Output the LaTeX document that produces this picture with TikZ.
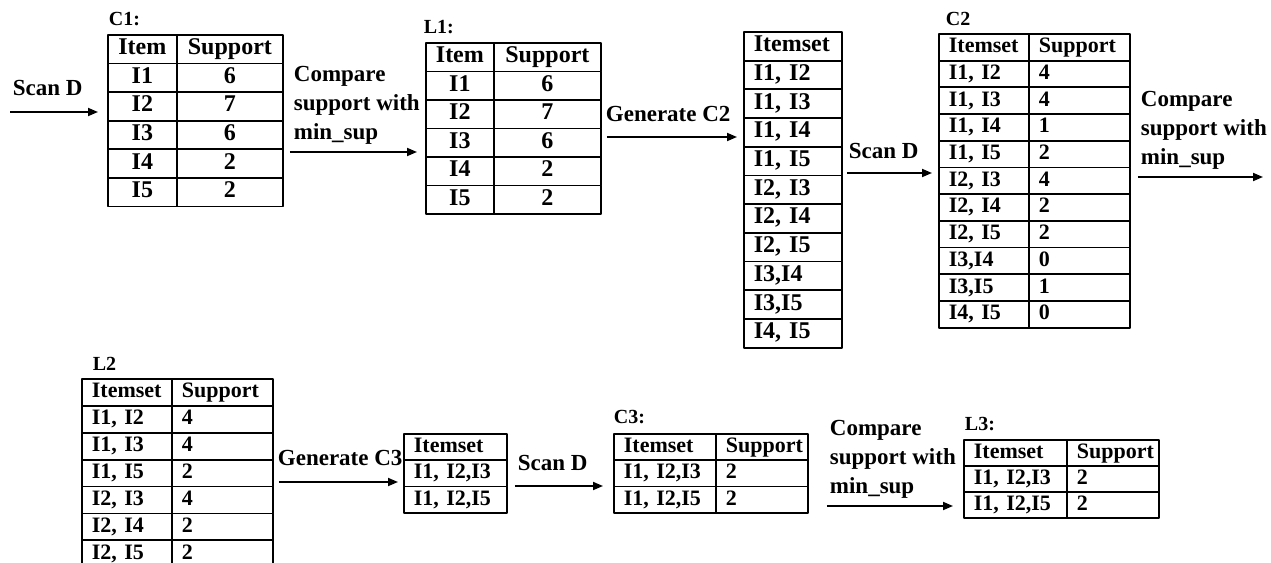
\documentclass[tikz,border=0pt]{standalone}
\usepackage{fontspec}
\setmainfont{Liberation Serif}
\usetikzlibrary{matrix,arrows.meta}
\begin{document}
\begin{tikzpicture}[x=1pt, y=-1pt, line width=1.8pt, line join=round, >={Triangle[length=10pt,width=8pt]},
	tbl/.style={matrix of nodes, anchor=north west, inner sep=0pt, outer sep=0pt, row sep=-\pgflinewidth, column sep=-\pgflinewidth, nodes={draw, inner xsep=10pt, inner ysep=0pt}},
	bigcell/.style={nodes={font=\fontsize{24}{28}\selectfont\bfseries, text height=17pt, text depth=6pt, minimum height=#1}},
	smallcell/.style={nodes={font=\fontsize{22}{26}\selectfont\bfseries, text height=16pt, text depth=5pt, minimum height=#1}},
	colw/.style 2 args={column #1/.style={nodes={text width=#2}}},
	lbl/.style={anchor=south west, inner sep=0pt, align=left, font=\fontsize{23}{28.8}\selectfont\bfseries},
	ttl/.style={anchor=base west, inner sep=0pt, font=\fontsize{20}{24}\selectfont\bfseries}]
	\useasboundingbox (0,0) rectangle (1271,562);

	\matrix (c1) [tbl, bigcell=28.6pt, nodes={align=center}, colw={1}{49pt}, colw={2}{86pt}] at (107,34) {
		Item & Support\\
		I1 & 6\\
		I2 & 7\\
		I3 & 6\\
		I4 & 2\\
		I5 & 2\\
	};
	\matrix (l1) [tbl, bigcell=28.5pt, nodes={align=center}, colw={1}{48pt}, colw={2}{87pt}] at (425,42) {
		Item & Support\\
		I1 & 6\\
		I2 & 7\\
		I3 & 6\\
		I4 & 2\\
		I5 & 2\\
	};
	\matrix (c2i) [tbl, bigcell=28.7pt, nodes={align=left}, colw={1}{78pt}] at (743,31) {
		Itemset\\
		I1, I2\\
		I1, I3\\
		I1, I4\\
		I1, I5\\
		I2, I3\\
		I2, I4\\
		I2, I5\\
		I3,I4\\
		I3,I5\\
		I4, I5\\
	};
	\matrix (c2) [tbl, smallcell=26.7pt, nodes={align=left}, colw={1}{70pt}, colw={2}{81pt}] at (938,33) {
		Itemset & Support\\
		I1, I2 & 4\\
		I1, I3 & 4\\
		I1, I4 & 1\\
		I1, I5 & 2\\
		I2, I3 & 4\\
		I2, I4 & 2\\
		I2, I5 & 2\\
		I3,I4 & 0\\
		I3,I5 & 1\\
		I4, I5 & 0\\
	};
	\matrix (l2) [tbl, smallcell=26.9pt, nodes={align=left}, colw={1}{70pt}, colw={2}{81pt}] at (81,378) {
		Itemset & Support\\
		I1, I2 & 4\\
		I1, I3 & 4\\
		I1, I5 & 2\\
		I2, I3 & 4\\
		I2, I4 & 2\\
		I2, I5 & 2\\
	};
	\matrix (c3i) [tbl, smallcell=26.3pt, nodes={align=left}, colw={1}{83pt}] at (403,433) {
		Itemset\\
		I1, I2,I3\\
		I1, I2,I5\\
	};
	\matrix (c3) [tbl, smallcell=26.3pt, nodes={align=left}, colw={1}{82pt}, colw={2}{72pt}] at (613,433) {
		Itemset & Support\\
		I1, I2,I3 & 2\\
		I1, I2,I5 & 2\\
	};
	\matrix (l3) [tbl, smallcell=26pt, nodes={align=left}, colw={1}{83pt}, colw={2}{72pt}] at (963,439) {
		Itemset & Support\\
		I1, I2,I3 & 2\\
		I1, I2,I5 & 2\\
	};

	\node[ttl] (c1t) at (108,25) {C1:};
	\node[ttl] (l1t) at (423,33) {L1:};
	\node[ttl] (c2t) at (945,25) {C2};
	\node[ttl] (l2t) at (92,370) {L2};
	\node[ttl] (c3t) at (613,423) {C3:};
	\node[ttl] (l3t) at (964,430) {L3:};

	\node[lbl] (t1) at (12,97) {Scan D};
	\node[lbl] (t2) at (293,145) {Compare\\support with\\min\_sup};
	\node[lbl] (t3) at (605,123) {Generate C2};
	\node[lbl] (t4) at (848,160) {Scan D};
	\node[lbl] (t5) at (1140,170) {Compare\\support with\\min\_sup};
	\node[lbl] (t6) at (277,467) {Generate C3};
	\node[lbl] (t7) at (517,472) {Scan D};
	\node[lbl] (t8) at (829,499) {Compare\\support with\\min\_sup};

	\coordinate (s1) at (10,112);
	\coordinate (a2) at (0,152);
	\coordinate (a3) at (0,137);
	\coordinate (a4) at (0,173);
	\coordinate (e5) at (1263,177);
	\coordinate (a6) at (0,482);
	\coordinate (a7) at (0,486);
	\coordinate (a8) at (0,506);
	\draw[->, shorten >=9pt] (s1) -- (s1 -| c1.west);
	\draw[->, shorten <=6pt, shorten >=8pt] (a2 -| c1.east) -- (a2 -| l1.west);
	\draw[->, shorten <=5pt, shorten >=6pt] (a3 -| l1.east) -- (a3 -| c2i.west);
	\draw[->, shorten <=4pt, shorten >=6pt] (a4 -| c2i.east) -- (a4 -| c2.west);
	\draw[->, shorten <=7pt] (e5 -| c2.east) -- (e5);
	\draw[->, shorten <=5pt, shorten >=5pt] (a6 -| l2.east) -- (a6 -| c3i.west);
	\draw[->, shorten <=7pt, shorten >=10pt] (a7 -| c3i.east) -- (a7 -| c3.west);
	\draw[->, shorten <=18pt, shorten >=10pt] (a8 -| c3.east) -- (a8 -| l3.west);
\end{tikzpicture}
\end{document}
